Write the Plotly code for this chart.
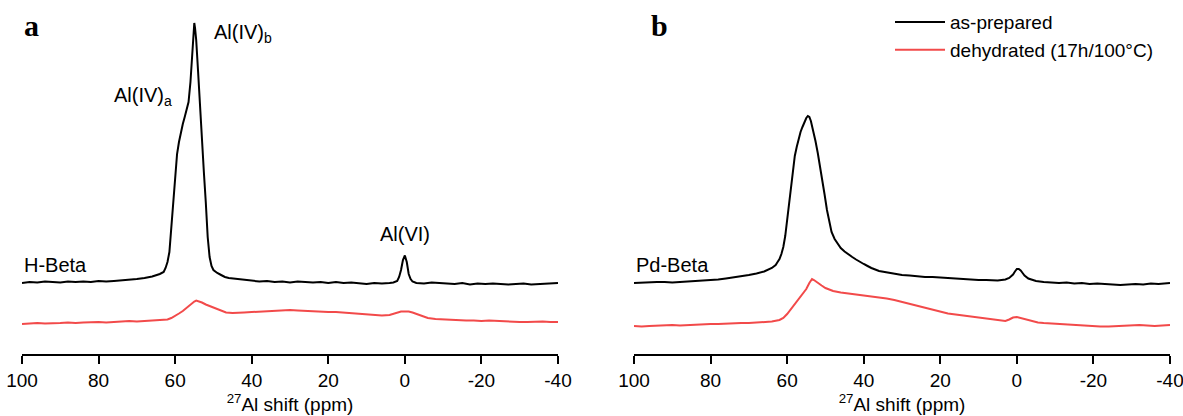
import plotly.graph_objects as go
from plotly.subplots import make_subplots

# ---------------- data (27Al shift in ppm, relative intensity) ----------------
h_black_ppm = [100, 98, 96, 94, 92, 90, 88, 86, 84, 82, 80, 78, 76, 74, 72, 70, 68, 66, 64, 63, 62.5, 62, 61.5, 61,
               60.5, 60, 59.5, 59, 58.5, 58, 57.5, 57, 56.5, 56, 55.5, 55.2, 55, 54.8, 54.5, 54, 53.5, 53, 52.5, 52,
               51.5, 51, 50.5, 50, 49, 48, 47, 46, 44, 42, 40, 38, 36, 34, 32, 30, 28, 26, 24, 22, 20, 18, 16, 14,
               12, 10, 8, 6, 4, 3, 2, 1.5, 1, 0.5, 0, -0.5, -1, -1.5, -2, -3, -5, -7, -9, -11, -13, -15, -17, -19,
               -21, -23, -25, -27, -29, -31, -33, -35, -37, -39, -40]
h_black_int = [-1, 0, -0.5, 0.5, 0, -0.5, 0.5, 0, 0.5, 0, 1, 0.5, 1, 1.5, 2, 3, 4, 5.5, 8, 10, 14, 20, 30, 55,
               80, 109, 128, 140, 150, 158, 165, 172, 180, 200, 235, 256, 259, 254, 242, 210, 172, 140, 110, 80,
               45, 25, 16, 12, 9, 7, 5, 4, 3, 2, 1.5, 0.5, 1, 0, 0.5, -0.5, 0.5, 0, -0.5, 0, -1, 0, -1, -0.5,
               -1.5, -2, -1, -1.5, -1, -0.5, 1, 5, 12, 22, 26.5, 20, 8, 3, 0.5, -1, -1.5, -0.5, -1, -1.5, -2, -1,
               -2.5, -1.5, -2, -1.5, -2, -2.5, -2, -1.5, -2.5, -2, -1.5, -1, -1]

h_red_ppm = [100, 98, 96, 94, 92, 90, 88, 86, 84, 82, 80, 78, 76, 74, 72, 70, 68, 66, 64, 62, 61, 60, 59, 58, 57,
             56, 55, 54.5, 54, 53, 52, 51, 50, 49, 48, 46.7, 45, 44, 42, 40, 38, 36, 34, 32, 30, 28, 26, 24, 22,
             20, 18, 16, 14, 12, 10, 8, 6, 4, 3, 2, 1, 0, -1, -2, -3, -4, -5, -6, -8, -10, -12, -14, -16, -18,
             -20, -22, -24, -26, -28, -30, -32, -34, -36, -38, -40]
h_red_int = [-3, -2.5, -2, -2.5, -2.5, -2, -1.5, -2, -1.5, -1, -1, -1.5, -1, -0.5, 0, -0.5, 0, 0, 1, 1.5, 3, 5,
             7.5, 10, 13.5, 17, 19.5, 20.5, 20, 18.5, 16.5, 15, 13, 11.5, 10, 8.5, 8, 8, 8.5, 9, 9.5, 10, 10.5,
             11, 11, 10.5, 10, 10, 9.5, 9, 9, 8.5, 8, 7.5, 7, 6, 5.5, 6, 7, 8.5, 9.5, 9.5, 9.5, 8.5, 7, 5.5, 4,
             3, 2, 1.5, 1, 1, 0.5, 0.5, 0, 0.5, 0, -0.5, -0.5, -1, -1, -0.5, -0.5, -1, -1]

pd_black_ppm = [100, 98, 96, 94, 92, 90, 88, 86, 84, 82, 80, 78, 76, 74, 72, 70, 68, 66, 64, 63, 62.5, 62, 61.5,
                61, 60.5, 60, 59.5, 59, 58.5, 58, 57.5, 57, 56.5, 56, 55.5, 55, 54.6, 54.2, 53.8, 53.2, 52.6,
                52, 51.4, 50.8, 50.2, 49.6, 49, 48.4, 47.6, 46.8, 46, 45, 44, 43, 42, 41, 40, 39, 38, 36, 34,
                32, 30, 28, 26, 24, 22, 20, 18, 16, 14, 12, 10, 8, 6, 5, 4, 3, 2, 1, 0.5, 0, -0.5, -1, -1.5, -2,
                -3, -4, -5, -7, -9, -11, -13, -15, -17, -19, -21, -23, -25, -27, -29, -31, -33, -35, -37, -39, -40]
pd_black_int = [-1, -0.5, -0.5, 0, 0, -0.5, 0, 0.5, 0.5, 1, 1.5, 2.5, 3.5, 4.5, 6, 7, 8.5, 10.5, 14, 17, 20, 23,
                28, 35, 46, 62, 82, 100, 115, 126, 135, 143, 150, 155, 160, 164, 166, 165, 161, 152, 141,
                129, 116, 102, 87, 72, 59, 50, 43, 38, 34, 30.5, 27.5, 25, 22.5, 20, 18, 16, 14, 11, 9.5,
                8, 7, 6.5, 5.5, 5, 5, 4.5, 4, 3, 3, 2.5, 2, 2, 1.5, 1.5, 2, 2.5, 4, 7.5, 10.5, 13, 13, 11.5, 9, 6.5,
                3.5, 2, 1, 0, -0.5, -1, -0.5, -1.5, -1, -2, -1.5, -2, -2.5, -3, -2.5, -2, -2.5, -1.5, -2, -1.5, -1]

pd_red_ppm = [100, 98, 96, 94, 92, 90, 88, 86, 84, 82, 80, 78, 76, 74, 72, 70, 68, 66, 64, 62, 61, 60, 59, 58,
              57, 56, 55, 54.2, 53.5, 53, 52, 51, 50, 49, 48, 46, 44, 42, 40, 38, 36, 34, 32, 30, 28, 26, 24, 22,
              20, 18, 16, 14, 12, 10, 8, 6, 4.5, 3, 2, 1, 0, -1, -2, -3, -4, -5.5, -7, -9, -11, -13, -15, -17, -19,
              -21.8, -24, -26, -28, -30, -32, -34, -36, -38, -40]
pd_red_int = [-5, -5.5, -5, -4.5, -4.5, -4, -4.5, -4, -3.5, -3.5, -3, -3, -2.5, -2.5, -2, -2, -1.5, -1, -0.5, 1,
              3, 7, 12, 17, 22, 27, 32, 38, 42, 41, 38, 35.5, 33, 31.5, 30, 28.5, 27.5, 26.5, 25.5, 25, 24, 22.5,
              21, 19, 17, 15, 13, 11, 9, 7.5, 6.5, 5.5, 5, 4, 3, 2, 0.5, 0, 1.5, 3.5, 4, 3, 2, 1, -0.5, -1.5, -2,
              -2.5, -3, -3, -3.5, -4, -4.5, -5.5, -5.5, -5, -5, -4, -4, -4.5, -5, -4.5, -4]

series_names = ["as-prepared", "dehydrated (17h/100°C)"]
sample_labels = ["H-Beta", "Pd-Beta"]
panel_labels = ["a", "b"]
x_ticks = [100, 80, 60, 40, 20, 0, -20, -40]

# ---------------- styling ----------------
BLACK_OFFSET = 72
RED_OFFSET = 33
BLACK = "#000000"
RED = "#f24a4a"
FONT = "Liberation Sans, Arial, sans-serif"

fig = make_subplots(rows=1, cols=2, horizontal_spacing=0.05)

fig.add_trace(go.Scatter(x=h_black_ppm, y=[v + BLACK_OFFSET for v in h_black_int], mode="lines",
                         line=dict(color=BLACK, width=2), name=series_names[0], showlegend=True), 1, 1)
fig.add_trace(go.Scatter(x=h_red_ppm, y=[v + RED_OFFSET for v in h_red_int], mode="lines",
                         line=dict(color=RED, width=2), name=series_names[1], showlegend=True), 1, 1)
fig.add_trace(go.Scatter(x=pd_black_ppm, y=[v + BLACK_OFFSET for v in pd_black_int], mode="lines",
                         line=dict(color=BLACK, width=2), name=series_names[0], showlegend=False), 1, 2)
fig.add_trace(go.Scatter(x=pd_red_ppm, y=[v + RED_OFFSET for v in pd_red_int], mode="lines",
                         line=dict(color=RED, width=2), name=series_names[1], showlegend=False), 1, 2)

xcommon = dict(range=[100, -40], tickvals=x_ticks, ticktext=[str(t) for t in x_ticks],
               showline=True, linecolor="black", linewidth=2, ticks="outside", ticklen=8,
               tickwidth=2, tickcolor="black", showgrid=False, zeroline=False, automargin=False,
               ticklabeloverflow="allow",
               tickfont=dict(family=FONT, size=19, color="black"),
               title=dict(text="<sup>27</sup>Al shift (ppm)", font=dict(family=FONT, size=19, color="black"),
                          standoff=2))
fig.update_xaxes(**xcommon)
fig.update_xaxes(domain=[22 / 1183, 558 / 1183], row=1, col=1)
fig.update_xaxes(domain=[634 / 1183, 1170 / 1183], row=1, col=2)
fig.update_yaxes(range=[0, 339], visible=False, showgrid=False, zeroline=False, automargin=False)

ann = []
af = dict(family=FONT, size=20, color="black")
ann.append(dict(x=50.5, y=321, xref="x", yref="y", text="Al(IV)<sub>b</sub>", xanchor="left",
                yanchor="middle", showarrow=False, font=af))
ann.append(dict(x=60.2, y=258, xref="x", yref="y", text="Al(IV)<sub>a</sub>", xanchor="right",
                yanchor="middle", showarrow=False, font=af))
ann.append(dict(x=0, y=120, xref="x", yref="y", text="Al(VI)", xanchor="center",
                yanchor="middle", showarrow=False, font=af))
ann.append(dict(x=99.9, y=89, xref="x", yref="y", text=sample_labels[0], xanchor="left",
                yanchor="middle", showarrow=False, font=af))
ann.append(dict(x=99.9, y=89, xref="x2", yref="y2", text=sample_labels[1], xanchor="left",
                yanchor="middle", showarrow=False, font=af))
pf = dict(family="Liberation Serif, Times New Roman, serif", size=30, color="black")
ann.append(dict(x=99.9, y=329, xref="x", yref="y", text="<b>" + panel_labels[0] + "</b>", xanchor="left",
                yanchor="middle", showarrow=False, font=pf))
ann.append(dict(x=96, y=329, xref="x2", yref="y2", text="<b>" + panel_labels[1] + "</b>", xanchor="left",
                yanchor="middle", showarrow=False, font=pf))

fig.update_layout(
    width=1183, height=416,
    margin=dict(l=0, r=0, t=15, b=62),
    paper_bgcolor="white", plot_bgcolor="white",
    annotations=ann,
    showlegend=True,
    legend=dict(x=890 / 1183, y=1.035, xanchor="left", yanchor="top", bgcolor="rgba(0,0,0,0)",
                font=dict(family=FONT, size=19, color="black"), itemwidth=50, tracegroupgap=0),
)

fig.write_html("out.html")
